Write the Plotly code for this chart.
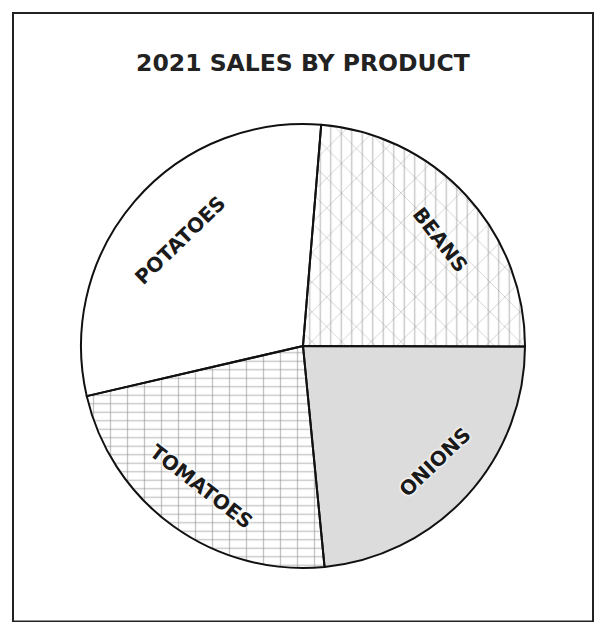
import math
import plotly.graph_objects as go

# Data (% share of 2021 sales)
products = ["BEANS", "ONIONS", "TOMATOES", "POTATOES"]
sales = [23.7, 23.4, 22.9, 29.9]

title_text = "2021 SALES BY PRODUCT"

fill_colors = ["white", "#dcdcdc", "white", "white"]
pattern_a = ["x", "", "-", ""]
pattern_a_size = [21, 8, 8.5, 8]
pattern_a_solid = [0.07, 0.1, 0.16, 0.1]
pattern_b = ["|", "", "|", ""]
pattern_b_size = [10.5, 8, 17, 8]
pattern_b_solid = [0.13, 0.1, 0.08, 0.1]

# label placement styling (fraction of radius, angular nudge, rotation nudge)
label_radius = [0.78, 0.79, 0.78, 0.73]
label_shift = [5.0, -1.0, 0.0, 0.0]
label_tilt = [0.0, 5.0, 2.0, 5.0]

W, H = 597, 622
cx, cy, R = 303, 346, 222
start_angle = 4.7
dom_x = [(cx - R) / W, (cx + R) / W]
dom_y = [(H - cy - R) / H, (H - cy + R) / H]

fig = go.Figure()

# base layer: fills + first pattern
fig.add_trace(go.Pie(
    labels=products, values=sales, sort=False, direction="clockwise",
    rotation=start_angle, domain=dict(x=dom_x, y=dom_y),
    marker=dict(colors=fill_colors,
                line=dict(color="black", width=0),
                pattern=dict(shape=pattern_a, size=pattern_a_size,
                             solidity=pattern_a_solid,
                             fgcolor="#8c8c8c", fillmode="overlay")),
    textinfo="none", hoverinfo="skip", showlegend=False,
))

# top layer: second pattern + outlines
fig.add_trace(go.Pie(
    labels=products, values=sales, sort=False, direction="clockwise",
    rotation=start_angle, domain=dict(x=dom_x, y=dom_y),
    marker=dict(colors=["rgba(0,0,0,0)"] * 4,
                line=dict(color="#111111", width=2),
                pattern=dict(shape=pattern_b, size=pattern_b_size,
                             solidity=pattern_b_solid,
                             fgcolor="#8c8c8c", bgcolor="rgba(0,0,0,0)",
                             fillmode="overlay")),
    textinfo="none",
    hoverinfo="label+percent", showlegend=False,
))

# slice labels, tangential, placed around the slice mid-angle
total = sum(sales)
annotations = []
acc = 0.0
for i, (name, v) in enumerate(zip(products, sales)):
    mid = start_angle + (acc + v / 2) / total * 360.0 + label_shift[i]
    acc += v
    rr = label_radius[i] * R
    px = cx + rr * math.sin(math.radians(mid))
    py = cy - rr * math.cos(math.radians(mid))
    ang = mid % 360
    if 90 < ang < 270:
        ang -= 180
    elif ang >= 270:
        ang -= 360
    ang += label_tilt[i]
    annotations.append(dict(
        text="<b>" + name + "</b>", x=px / W, y=1 - py / H,
        xref="paper", yref="paper", showarrow=False, textangle=ang,
        xanchor="center", yanchor="middle",
        font=dict(family="DejaVu Sans", size=20, color="#1a1a1a",
                  shadow="0 0 3px white, 0 0 3px white, 0 0 3px white"),
    ))

fig.update_layout(
    width=W, height=H,
    margin=dict(l=0, r=0, t=0, b=0),
    paper_bgcolor="white", plot_bgcolor="white",
    title=dict(text="<b>" + title_text + "</b>", x=cx / W, xanchor="center",
               y=1 - 63 / H, yanchor="middle", yref="paper",
               font=dict(family="DejaVu Sans", size=23.5, color="#222222")),
    annotations=annotations,
    shapes=[dict(type="rect", xref="paper", yref="paper",
                 x0=13 / W, x1=593 / W, y0=0.5 / H, y1=1 - 13 / H,
                 line=dict(color="#222222", width=2), fillcolor="rgba(0,0,0,0)")],
)

fig.write_html("out.html")
